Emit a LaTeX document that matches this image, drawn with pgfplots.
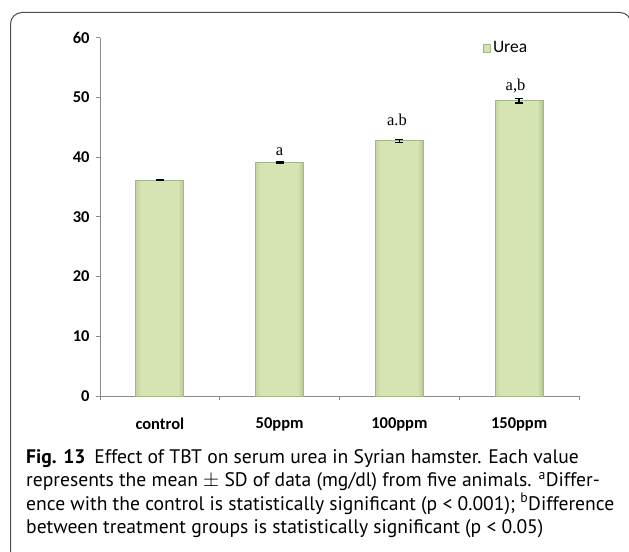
\documentclass[border=0pt]{standalone}
\usepackage{pgfplots}
\pgfplotsset{compat=1.18}
\usepackage{fontspec}
\setmainfont{PT Sans}
\newfontfamily\calib{Carlito}
\newfontfamily\serifl{Liberation Serif}
\definecolor{barfill}{HTML}{D6E4B4}
\definecolor{barside}{HTML}{C3D49F}
\definecolor{barshadow}{HTML}{B2C68C}
\definecolor{baredge}{HTML}{A3B985}
\definecolor{axisgrey}{HTML}{8C8C8C}
\definecolor{framegrey}{HTML}{4D4D4D}
% soft bevel across each bar: darker bands on the sides, light face in the middle
\pgfdeclarehorizontalshading{barbevel}{100bp}{%
  color(0bp)=(barside); color(25bp)=(barside); color(30bp)=(barfill);
  color(69bp)=(barfill); color(75bp)=(barshadow); color(100bp)=(barshadow)}
\pgfplotsset{
  ureabar/.style={ybar, bar width=48bp, bar shift=0pt, shade, shading=barbevel,
    draw=baredge, line width=0.9bp,
    error bars/.cd, y dir=both, y explicit,
    error bar style={black, line width=1.6bp},
    error mark options={black, line width=1.6bp, mark size=4bp, rotate=90},
    /pgfplots/.cd},
}
\begin{document}
\begin{tikzpicture}[x=1bp,y=1bp]
\path[use as bounding box] (0,0) rectangle (629,-552);
% rounded frame around figure and caption
\draw[framegrey, line width=1bp] (10.5,-560) -- (10.5,-24) arc[start angle=180,end angle=90,radius=11.5]
  -- (620,-12.5) arc[start angle=90,end angle=0,radius=11] -- (631,-560);
\begin{axis}[
  at={(100bp,-396bp)}, anchor=south west,
  scale only axis, width=479bp, height=358.5bp,
  xmin=-0.5, xmax=3.5, ymin=0, ymax=60,
  axis x line*=bottom, axis y line*=left,
  axis line style={axisgrey, line width=0.8bp},
  tick align=outside, major tick length=4bp,
  every tick/.style={axisgrey, line width=0.8bp},
  ytick={0,10,...,60},
  xtick={-0.5,0.5,1.5,2.5,3.5}, xticklabels={},
  extra x ticks={0,1,2,3},
  extra x tick labels={control,50ppm,100ppm,150ppm},
  extra x tick style={major tick length=0pt},
  /pgf/number format/assume math mode=true,
  tick label style={font=\calib\bfseries\fontsize{16.5bp}{16.5bp}\selectfont, black},
  yticklabel style={xshift=-3bp},
  xticklabel style={yshift=-18bp},
  legend style={at={(0.7996,0.9707)}, anchor=west, draw=none, fill=none,
    inner sep=0pt, font=\calib\fontsize{17.5bp}{17.5bp}\selectfont},
  legend image code/.code={\draw[fill=barfill, draw=baredge, line width=0.8bp] (0bp,-4bp) rectangle (7bp,4bp);},
  clip=false,
]
% serum urea (mg/dl), mean +- SD
\addplot[ureabar] coordinates {(0,36.15) +- (0,0.1)};
\addlegendentry{Urea}
\addplot[forget plot, ureabar] coordinates {(1,39.1) +- (0,0.15)};
\addplot[forget plot, ureabar] coordinates {(2,42.7) +- (0,0.25)};
\addplot[forget plot, ureabar] coordinates {(3,49.4) +- (0,0.4)};
\node[font=\serifl\fontsize{16.5bp}{16.5bp}\selectfont, anchor=base] at (axis cs:1,40.3) {a};
\node[font=\serifl\fontsize{16.5bp}{16.5bp}\selectfont, anchor=base] at (axis cs:1.98,45.2) {a.b};
\node[font=\serifl\fontsize{16.5bp}{16.5bp}\selectfont, anchor=base] at (axis cs:2.97,51.1) {a,b};
\end{axis}
% caption
\begin{scope}[every node/.style={anchor=base west, inner sep=0pt, font=\fontsize{19.6bp}{23.5bp}\selectfont}]
\node at (26,-463) {\textbf{Fig. 13}\hspace{0.45em}Effect of TBT on serum urea in Syrian hamster. Each value};
\node at (26,-486.5) {represents the mean $\pm$ SD of data (mg/dl) from five animals. \textsuperscript{a}Differ-};
\node at (26,-510) {ence with the control is statistically significant (p < 0.001); \textsuperscript{b}Difference};
\node at (26,-533.5) {between treatment groups is statistically significant (p < 0.05)};
\end{scope}
\end{tikzpicture}
\end{document}
